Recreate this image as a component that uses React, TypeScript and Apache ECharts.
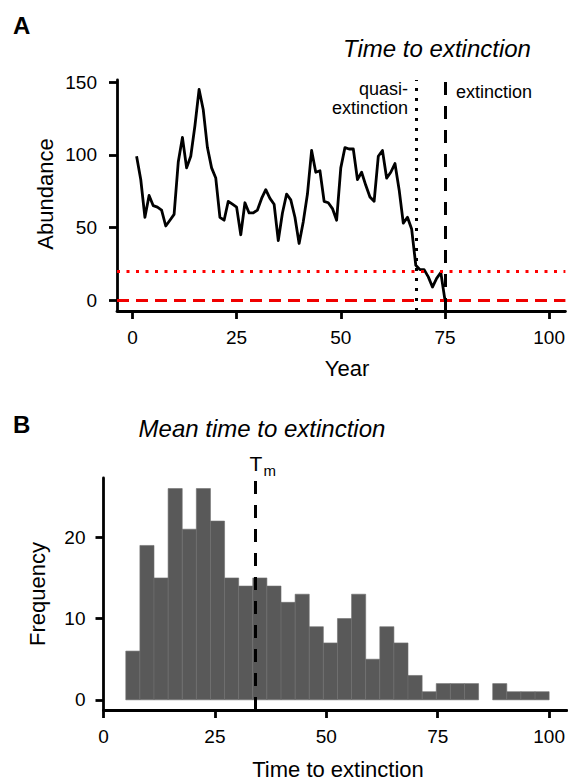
import React, { useEffect, useRef } from "react";
import * as echarts from "echarts";

// Panel A: simulated abundance time series (years 1..75)
const abundance = [
  99, 83, 57, 72, 65, 64, 62, 51, 55, 59,
  95, 112, 91, 99, 120, 145, 131, 105, 91, 84,
  57, 55, 68, 66, 64, 45, 67, 60, 60, 62,
  70, 76, 70, 66, 41, 60, 73, 69, 57, 39,
  54, 73, 103, 88, 89, 68, 67, 63, 55, 91,
  105, 104, 104, 83, 88, 79, 71, 68, 99, 103,
  84, 88, 94, 76, 53, 57, 49, 24, 21, 21,
  16, 9, 15, 19, 0,
];
const firstYear = 1;
const quasiThreshold = 20;
const extinctionThreshold = 0;
const quasiYear = 68;
const extinctionYear = 75;
const yearTicks = [0, 25, 50, 75, 100];
const abundanceTicks = [0, 50, 100, 150];

// Panel B: histogram of times to extinction (30 bins from 5 to 100)
const histStart = 5;
const histEnd = 100;
const histCounts = [
  6, 19, 15, 26, 21, 26, 22, 15, 14, 15,
  14, 12, 13, 9, 7, 10, 13, 5, 9, 7,
  3, 1, 2, 2, 2, 0, 2, 1, 1, 1,
];
const meanTime = 34;
const timeTicks = [0, 25, 50, 75, 100];
const freqTicks = [0, 10, 20];

const FONT = "'Liberation Sans', Arial, Helvetica, sans-serif";

export default function App() {
  const ref = useRef<HTMLDivElement>(null);

  useEffect(() => {
    if (!ref.current) return;
    const chart = echarts.init(ref.current, undefined, { renderer: "svg" });

    const linePoints = abundance.map((v, i) => [firstYear + i, v]);
    const binW = (histEnd - histStart) / histCounts.length;
    const histData = histCounts.map((c, i) => [
      histStart + i * binW,
      histStart + (i + 1) * binW,
      c,
    ]);

    const axisLine = { show: true, onZero: false, lineStyle: { color: "#000", width: 2.8 } };
    const axisTick = (vals: number[]) => ({
      show: true,
      inside: false,
      length: 8,
      lineStyle: { color: "#000", width: 2.8 },
      customValues: vals,
    });
    const axisLabel = (vals: number[], margin: number) => ({
      color: "#000",
      fontSize: 19,
      fontFamily: FONT,
      margin,
      customValues: vals,
    });

    const option: any = {
      animation: false,
      backgroundColor: "#fff",
      grid: [
        { left: 117, top: 80, width: 451, height: 231 },
        { left: 103.5, top: 478, width: 464.5, height: 232 },
      ],
      xAxis: [
        {
          type: "value",
          gridIndex: 0,
          min: -3.7,
          max: 103.9,
          axisLine,
          axisTick: axisTick(yearTicks),
          axisLabel: axisLabel(yearTicks, 17),
          splitLine: { show: false },
        },
        {
          type: "value",
          gridIndex: 1,
          min: 0,
          max: 104,
          axisLine,
          axisTick: axisTick(timeTicks),
          axisLabel: axisLabel(timeTicks, 17),
          splitLine: { show: false },
        },
      ],
      yAxis: [
        {
          type: "value",
          gridIndex: 0,
          min: -7.5,
          max: 151.5,
          axisLine,
          axisTick: axisTick(abundanceTicks),
          axisLabel: axisLabel(abundanceTicks, 20),
          splitLine: { show: false },
        },
        {
          type: "value",
          gridIndex: 1,
          min: -1.25,
          max: 27.3,
          axisLine,
          axisTick: axisTick(freqTicks),
          axisLabel: axisLabel(freqTicks, 18),
          splitLine: { show: false },
        },
      ],
      series: [
        {
          type: "line",
          xAxisIndex: 0,
          yAxisIndex: 0,
          data: linePoints,
          symbol: "none",
          silent: true,
          lineStyle: { color: "#000", width: 2.8, join: "round" },
          z: 3,
          markLine: {
            silent: true,
            symbol: "none",
            label: { show: false },
            data: [
              { yAxis: quasiThreshold, lineStyle: { color: "#ff0000", width: 3, type: [3, 6.5] } },
              { yAxis: extinctionThreshold, lineStyle: { color: "#f00000", width: 3, type: [12, 7] } },
              { xAxis: quasiYear, lineStyle: { color: "#000", width: 3, type: [3, 7] } },
              { xAxis: extinctionYear, lineStyle: { color: "#000", width: 3, type: [13, 11] } },
            ],
          },
        },
        {
          type: "custom",
          xAxisIndex: 1,
          yAxisIndex: 1,
          data: histData,
          encode: { x: [0, 1], y: 2 },
          silent: true,
          renderItem: (params: any, api: any) => {
            const c = api.value(2);
            if (!c) return null;
            const p0 = api.coord([api.value(0), 0]);
            const p1 = api.coord([api.value(1), c]);
            return {
              type: "rect",
              shape: { x: p0[0], y: p1[1], width: p1[0] - p0[0], height: p0[1] - p1[1] },
              style: { fill: "#595959", stroke: "#6e6e6e", lineWidth: 0.6 },
            };
          },
          z: 2,
        },
        {
          type: "line",
          xAxisIndex: 1,
          yAxisIndex: 1,
          data: [],
          silent: true,
          markLine: {
            silent: true,
            symbol: "none",
            label: { show: false },
            data: [{ xAxis: meanTime, lineStyle: { color: "#000", width: 3, type: [13, 11] } }],
          },
          z: 4,
        },
      ],
      graphic: [
        { type: "text", left: 13, top: 13, style: { text: "A", font: `bold 24px ${FONT}`, fill: "#000" } },
        { type: "text", left: 13, top: 412, style: { text: "B", font: `bold 24px ${FONT}`, fill: "#000" } },
        {
          type: "text", x: 437, y: 48,
          style: { text: "Time to extinction", font: `italic 24px ${FONT}`, fill: "#000", align: "center", verticalAlign: "middle" },
        },
        {
          type: "text", x: 262, y: 428,
          style: { text: "Mean time to extinction", font: `italic 24px ${FONT}`, fill: "#000", align: "center", verticalAlign: "middle" },
        },
        {
          type: "text", x: 408, y: 89,
          style: { text: "quasi-", font: `18px ${FONT}`, fill: "#000", align: "right", verticalAlign: "middle" },
        },
        {
          type: "text", x: 408, y: 108,
          style: { text: "extinction", font: `18px ${FONT}`, fill: "#000", align: "right", verticalAlign: "middle" },
        },
        {
          type: "text", x: 456, y: 92,
          style: { text: "extinction", font: `18px ${FONT}`, fill: "#000", align: "left", verticalAlign: "middle" },
        },
        {
          type: "text", x: 256, y: 463,
          style: { text: "T", font: `21px ${FONT}`, fill: "#000", align: "center", verticalAlign: "middle" },
        },
        {
          type: "text", x: 263.5, y: 470,
          style: { text: "m", font: `15px ${FONT}`, fill: "#000", align: "left", verticalAlign: "middle" },
        },
        {
          type: "text", x: 45, y: 194, rotation: Math.PI / 2,
          style: { text: "Abundance", font: `22px ${FONT}`, fill: "#000", align: "center", verticalAlign: "middle" },
        },
        {
          type: "text", x: 347, y: 368,
          style: { text: "Year", font: `22px ${FONT}`, fill: "#000", align: "center", verticalAlign: "middle" },
        },
        {
          type: "text", x: 37, y: 594, rotation: Math.PI / 2,
          style: { text: "Frequency", font: `22px ${FONT}`, fill: "#000", align: "center", verticalAlign: "middle" },
        },
        {
          type: "text", x: 338, y: 769,
          style: { text: "Time to extinction", font: `22px ${FONT}`, fill: "#000", align: "center", verticalAlign: "middle" },
        },
      ],
    };

    chart.setOption(option);
    return () => chart.dispose();
  }, []);

  return (
    <div
      ref={ref}
      style={{ position: "absolute", left: 0, top: 0, width: 568, height: 782, background: "#fff" }}
    />
  );
}
